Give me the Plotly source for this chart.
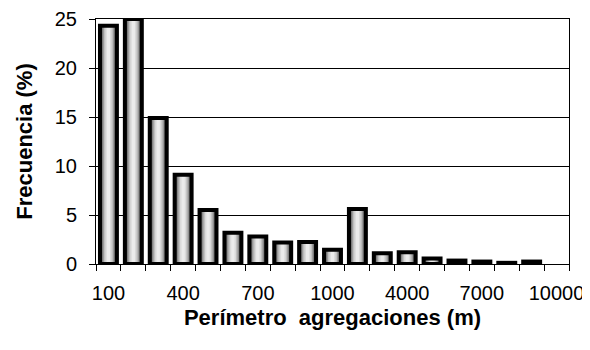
import plotly.graph_objects as go

# ---- data ----
categories = ["100", "200", "300", "400", "500", "600", "700", "800", "900", "1000",
              "2000", "3000", "4000", "5000", "6000", "7000", "8000", "9000", "10000"]
frequency = [24.3, 25.0, 14.9, 9.1, 5.5, 3.2, 2.8, 2.2, 2.25, 1.45,
             5.6, 1.1, 1.2, 0.55, 0.35, 0.25, 0.12, 0.25, None]
shown_ticks = ["100", "400", "700", "1000", "4000", "7000", "10000"]
y_ticks = [0, 5, 10, 15, 20, 25]

x_title = "Perímetro\u00a0\u00a0agregaciones (m)"
y_title = "Frecuencia (%)"

ticktext = [c if c in shown_ticks else "" for c in categories]

# ---- figure ----
fig = go.Figure()

# layered bars to imitate the cylinder-like grey gradient
layers = [
    (0.68, "#3c3c3c"),
    (0.56, "#6e6e6e"),
    (0.46, "#999999"),
    (0.36, "#bfbfbf"),
    (0.25, "#dadada"),
    (0.13, "#ebebeb"),
]
for w, col in layers:
    fig.add_trace(go.Bar(x=categories, y=frequency, width=w,
                         marker=dict(color=col, line=dict(width=0)),
                         cliponaxis=False, hoverinfo="skip"))

# black outline on top
fig.add_trace(go.Bar(x=categories, y=frequency, width=0.68,
                     marker=dict(color="rgba(0,0,0,0)", line=dict(color="black", width=4)),
                     cliponaxis=False))

font_family = "Liberation Sans, Arial, sans-serif"

fig.update_layout(
    width=582, height=342,
    margin=dict(l=88, r=21, t=11, b=86),
    barmode="overlay",
    showlegend=False,
    plot_bgcolor="white", paper_bgcolor="white",
    font=dict(family=font_family, color="black"),
)

fig.update_xaxes(
    type="category", automargin=False,
    tickmode="array", tickvals=categories, ticktext=ticktext,
    tickson="boundaries", tickangle=0,
    ticks="outside", ticklen=6, tickwidth=1, tickcolor="black",
    ticklabelstandoff=11,
    showline=True, linecolor="black", linewidth=1, mirror=True,
    showgrid=False,
    tickfont=dict(size=20, family=font_family, color="black"),
    title=dict(text="<b>" + x_title + "</b>", font=dict(size=22, family=font_family, color="black"), standoff=6),
)

fig.update_yaxes(
    range=[0, 25], automargin=False,
    tickmode="array", tickvals=y_ticks,
    ticks="outside", ticklen=6, tickwidth=1, tickcolor="black",
    ticklabelstandoff=8,
    showline=True, linecolor="black", linewidth=1, mirror=True,
    showgrid=True, gridcolor="black", gridwidth=1,
    zeroline=False,
    tickfont=dict(size=20, family=font_family, color="black"),
    title=dict(text="<b>" + y_title + "</b>", font=dict(size=22, family=font_family, color="black"), standoff=16),
)

fig.write_html("out.html")
